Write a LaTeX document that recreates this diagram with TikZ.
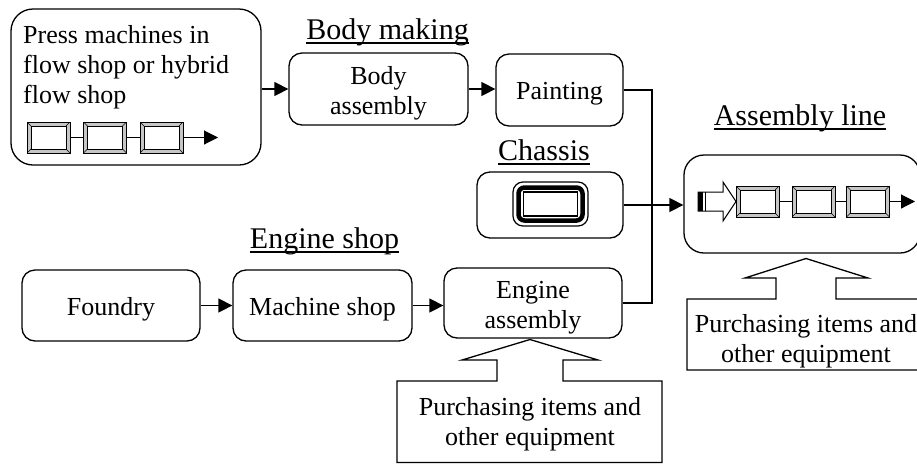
\documentclass[tikz,border=0pt]{standalone}
\usepackage{fontspec}
\setmainfont{Liberation Serif}
\usetikzlibrary{arrows.meta}

\begin{document}
\begin{tikzpicture}[x=1pt,y=-1pt,
  every node/.style={font=\fontsize{26}{30}\selectfont},
  stage/.style={draw, line width=1.3pt, rounded corners=13pt, inner sep=0pt},
  txt/.style={inner sep=0pt, align=center},
  title/.style={font=\fontsize{30}{34}\selectfont, inner sep=0pt, anchor=base},
  uline/.style={line width=1.3pt},
  link/.style={line width=1.4pt},
  arr/.style={link, -{Triangle[length=14pt,width=14pt]}},
  callout/.style={line width=1.3pt, line join=miter},
  cell/.style={draw, line width=1pt, fill=gray!45, minimum width=43pt, minimum height=31pt,
    inner sep=0pt, outer sep=0pt,
    path picture={
      \draw[line width=1pt, fill=white]
        ([shift={(4pt,4pt)}]path picture bounding box.south west) rectangle
        ([shift={(-4pt,-4pt)}]path picture bounding box.north east);
      \draw[line width=0.5pt]
        (path picture bounding box.south west) -- ++(4pt,4pt)
        (path picture bounding box.north east) -- ++(-4pt,-4pt)
        (path picture bounding box.north west) -- ++(4pt,-4pt)
        (path picture bounding box.south east) -- ++(-4pt,4pt);
    }},
  frameicon/.style={draw, line width=1.2pt, rounded corners=10pt, minimum width=75pt,
    minimum height=44pt, inner sep=0pt,
    path picture={
      \draw[line width=4.5pt, rounded corners=6pt]
        ([shift={(5.5pt,5.5pt)}]path picture bounding box.south west) rectangle
        ([shift={(-5.5pt,-5.5pt)}]path picture bounding box.north east);
      \draw[line width=1.2pt, sharp corners]
        ([shift={(10.5pt,10pt)}]path picture bounding box.south west) rectangle
        ([shift={(-10.5pt,-10pt)}]path picture bounding box.north east);
    }},
]
\clip (0,0) rectangle (917,464);

% ---- press shop ----
\node[stage, rounded corners=22pt, minimum width=250pt, minimum height=156pt] (press) at (136,87) {};
\node[inner sep=0pt, anchor=north west, align=left] (presstxt) at (23,25)
  {Press machines in\\flow shop or hybrid\\flow shop};
\node[cell] (p1) at (48.5,137.5) {};
\node[cell] (p2) at (105,137.5) {};
\node[cell] (p3) at (161.5,137.5) {};
\coordinate (pout) at (218,137.5);
\draw[link, line width=1.1pt] (p1.east) -- (p2.west) (p2.east) -- (p3.west);
\draw[arr, line width=1.1pt] (p3.east) -- (pout);

% ---- body making ----
\node[title] (tbody) at (387.5,39) {Body making};
\draw[uline] ([yshift=-4pt]tbody.base west) -- ([yshift=-4pt]tbody.base east);
\node[stage, minimum width=179pt, minimum height=72pt] (body) at (378.5,89) {};
\node[txt] (bodyt) at ([yshift=-4.5pt]body.center) {Body\\assembly};
\node[stage, minimum width=127pt, minimum height=72pt] (paint) at (559.5,90) {};
\node[txt] (paintt) at ([yshift=-3.5pt]paint.center) {Painting};

% ---- chassis ----
\node[title] (tchassis) at (544,160) {Chassis};
\draw[uline] ([yshift=-4pt]tchassis.base west) -- ([yshift=-4pt]tchassis.base east);
\node[stage, minimum width=146pt, minimum height=66pt] (chassis) at (550,205) {};
\node[frameicon] (chicon) at (550.5,204) {};

% ---- assembly line ----
\node[title] (tasm) at (800,125) {Assembly line};
\draw[uline] ([yshift=-4pt]tasm.base west) -- ([yshift=-4pt]tasm.base east);
\node[stage, rounded corners=20pt, minimum width=236pt, minimum height=98pt] (asm) at (802,204) {};
\node[cell] (a1) at (757.5,201.5) {};
\node[cell] (a2) at (813.5,201.5) {};
\node[cell] (a3) at (868,201.5) {};
\coordinate (aout) at (915,201.5);
\draw[link, line width=1.1pt] (a1.east) -- (a2.west) (a2.east) -- (a3.west);
\draw[arr, line width=1.1pt] (a3.east) -- (aout);
% hollow feed arrow
\fill (698,192) rectangle (702.5,211);
\draw[line width=1pt, line join=miter] (698,192) -- (723,192) -- (723,182) -- (736,201.5)
  -- (723,221) -- (723,211) -- (698,211) -- cycle;
\draw[line width=0.8pt] (705,192) -- (705,211);

% ---- engine shop ----
\node[title] (tengine) at (324.5,248) {Engine shop};
\draw[uline] ([yshift=-4pt]tengine.base west) -- ([yshift=-4pt]tengine.base east);
\node[stage, minimum width=178pt, minimum height=71pt] (foundry) at (111,305.5) {};
\node[txt] (foundryt) at ([yshift=-4pt]foundry.center) {Foundry};
\node[stage, minimum width=179pt, minimum height=71pt] (machine) at (322.5,305.5) {};
\node[txt] (machinet) at ([yshift=-4pt]machine.center) {Machine shop};
\node[stage, minimum width=178pt, minimum height=70pt] (engine) at (533,303) {};
\node[txt] (enginet) at ([yshift=-4.5pt]engine.center) {Engine\\assembly};

% ---- flow connectors ----
\draw[arr] (press.east |- body.west) -- (body.west);
\draw[arr] (body.east) -- (body.east -| paint.west);
\coordinate (bus) at (652,90);
\draw[link] (paint.east) -- (paint.east -| bus) -- (bus |- engine.east) -- (engine.east);
\draw[arr] (chassis.east) -- (chassis.east -| asm.west);
\draw[arr] (foundry.east) -- (foundry.east -| machine.west);
\draw[arr] (machine.east) -- (machine.east -| engine.west);

% ---- supply callouts ----
\draw[callout] (397,462.5) -- (397,381) -- (497,381) -- (497,360) -- (462,360) -- (530,339.5)
  -- (598,360) -- (563,360) -- (563,381) -- (662,381) -- (662,462.5) -- cycle;
\node[txt] (supeng) at (530,424) {Purchasing items and\\other equipment};

\draw[callout] (687,370) -- (687,299) -- (776,299) -- (776,278) -- (745,278) -- (806,258.5)
  -- (868,278) -- (836,278) -- (836,299) -- (925,299) -- (925,370) -- cycle;
\node[txt] (supasm) at (806,341.5) {Purchasing items and\\other equipment};
\end{tikzpicture}
\end{document}
